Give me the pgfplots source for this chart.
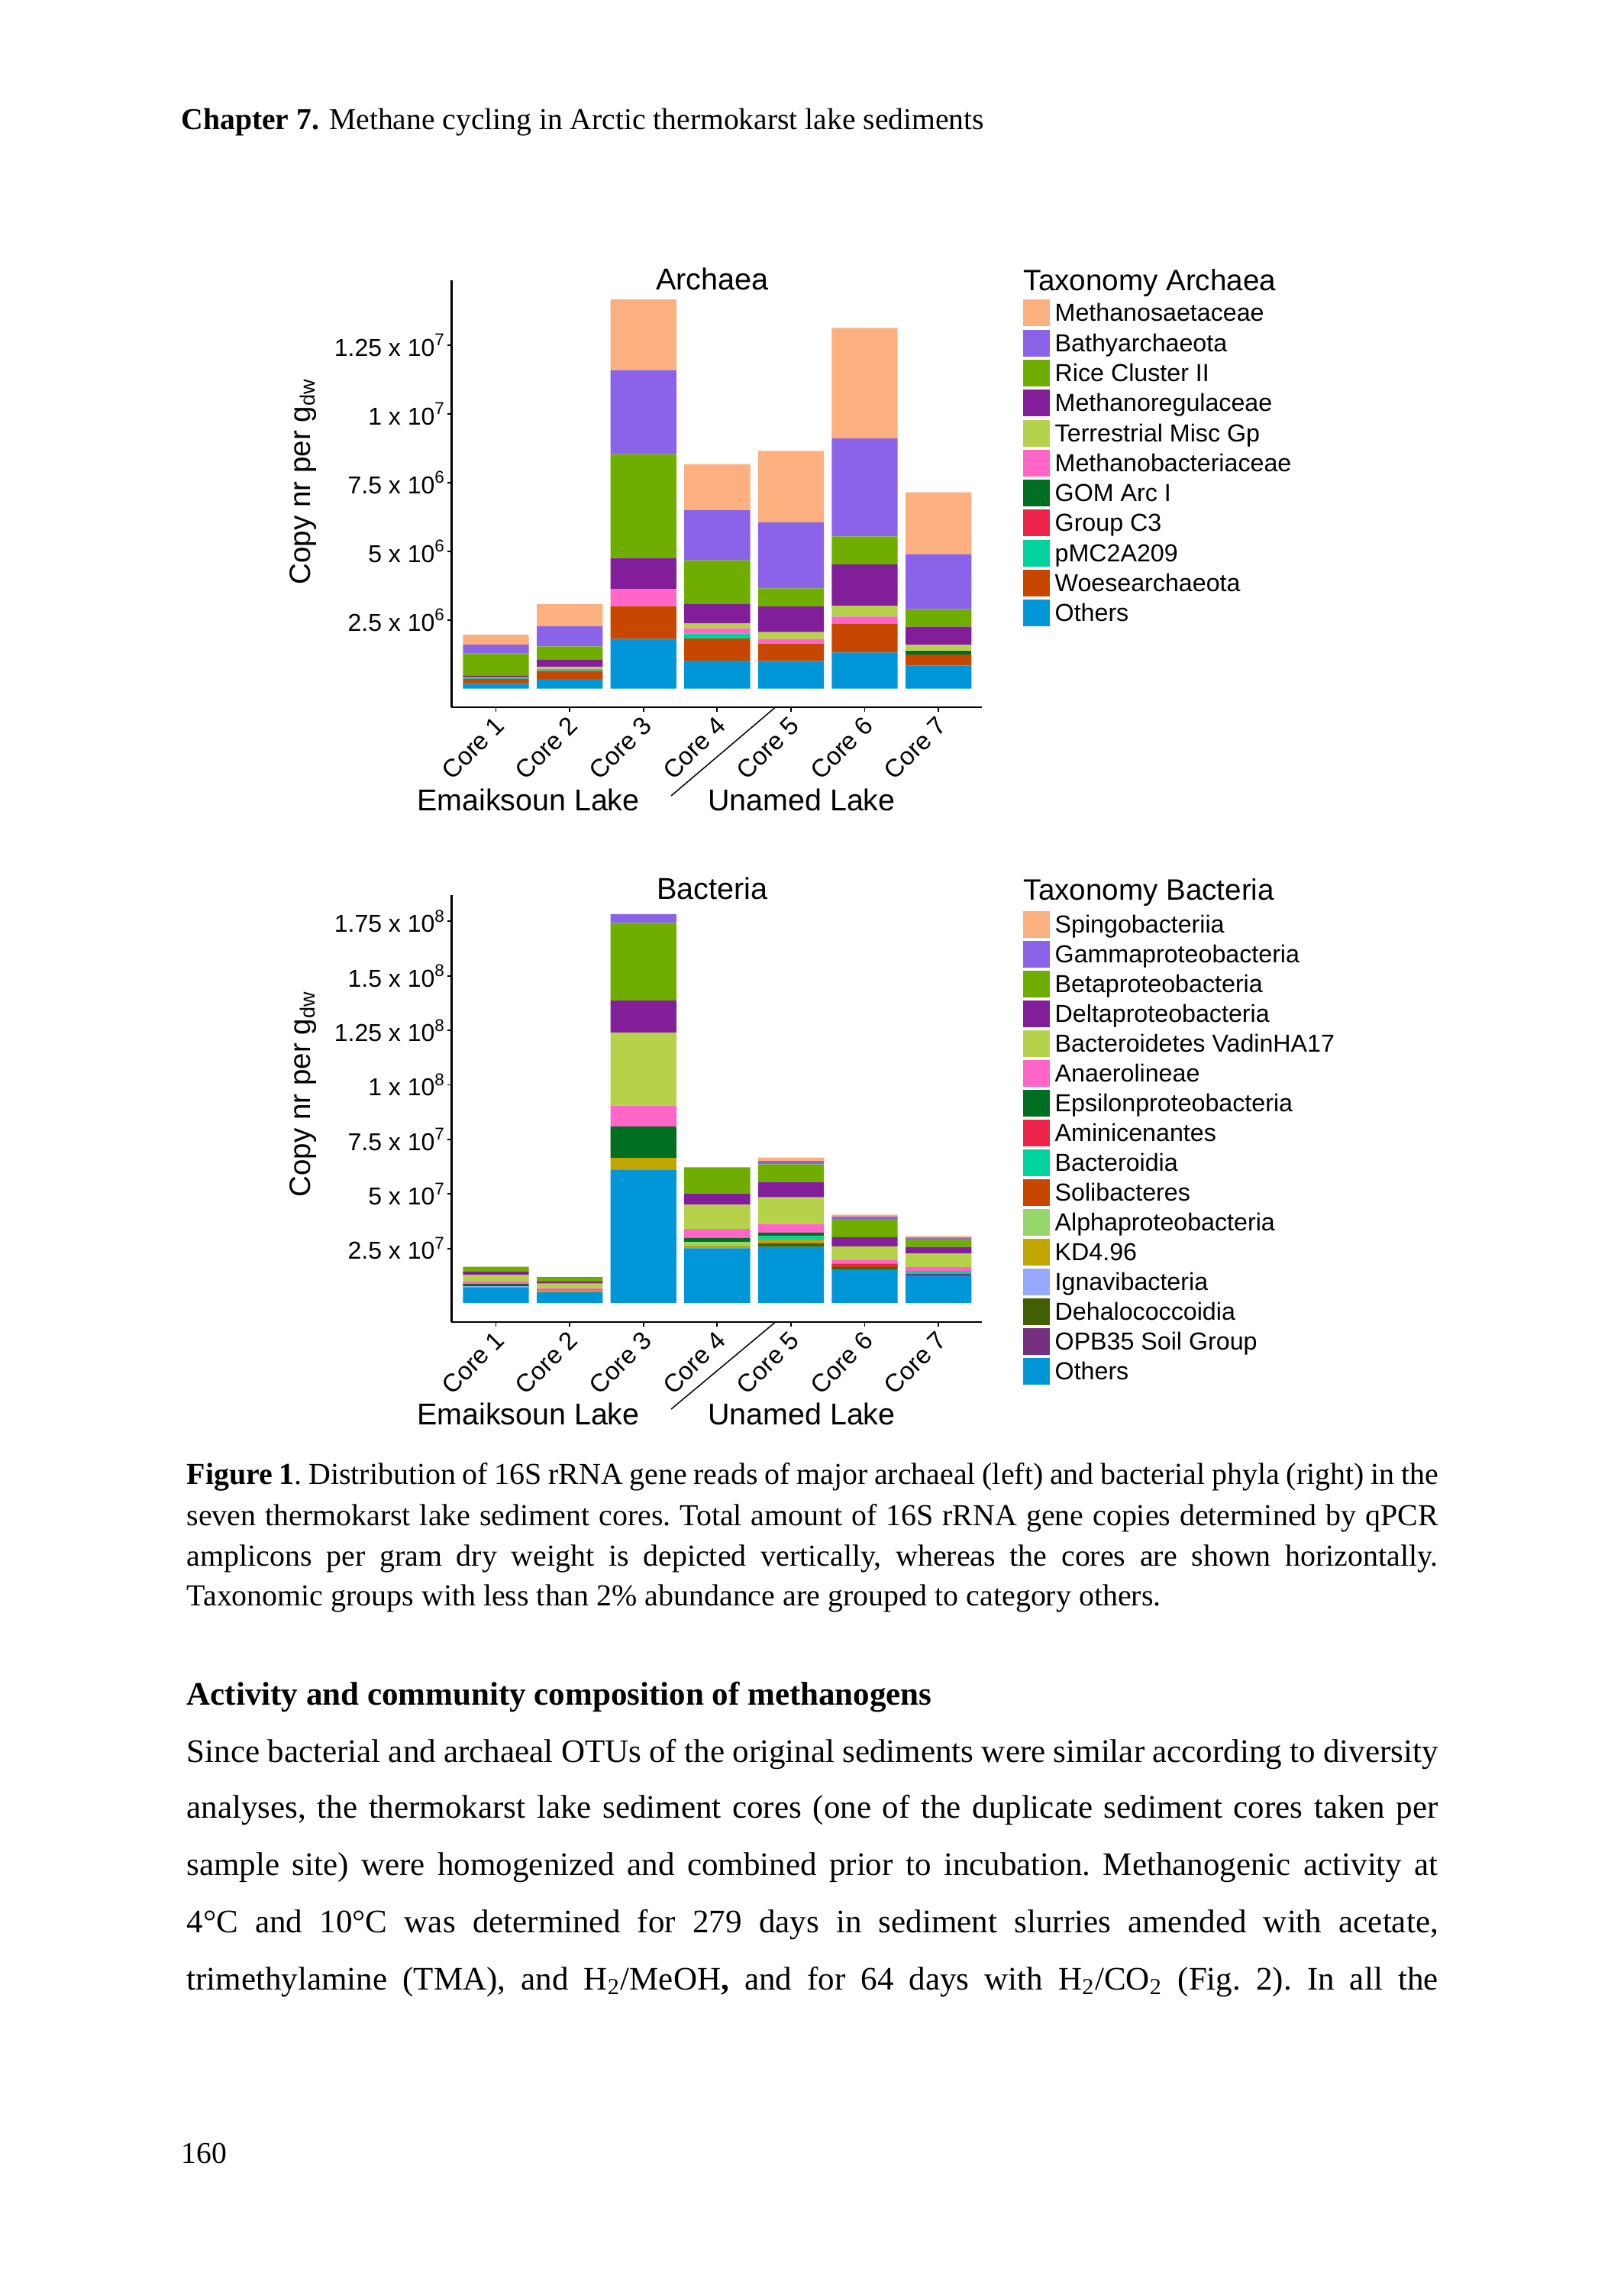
\documentclass[border=0pt]{standalone}
\usepackage{pgfplots}
\pgfplotsset{compat=1.18}
\usepackage{pgfplotstable}
\usepackage{fontspec}
\setmainfont{Liberation Serif}
\newfontfamily\arial{Liberation Sans}

\definecolor{cSaet}{HTML}{FCB080}
\definecolor{cBathy}{HTML}{8B63E8}
\definecolor{cRice}{HTML}{6FAE00}
\definecolor{cMreg}{HTML}{821E99}
\definecolor{cTerr}{HTML}{B6D24A}
\definecolor{cMbact}{HTML}{FF66C8}
\definecolor{cGom}{HTML}{006F21}
\definecolor{cGc}{HTML}{EC2449}
\definecolor{cPmc}{HTML}{00D39E}
\definecolor{cWoese}{HTML}{C84700}
\definecolor{cOthers}{HTML}{0096D8}
\definecolor{cAlpha}{HTML}{97D66C}
\definecolor{cKd}{HTML}{C1A500}
\definecolor{cIgnav}{HTML}{97A8FF}
\definecolor{cDehalo}{HTML}{436000}
\definecolor{cOpb}{HTML}{763080}

% Archaea, copies per g dw in units of 10^6
\pgfplotstableread{
x others woese pmc gcthree gom mbact terr mreg rice bathy saet
1 0.175 0.185 0.04 0.03 0 0 0 0.04 0.812 0.318 0.362
2 0.351 0.296 0.04 0 0 0.037 0.076 0.253 0.482 0.735 0.80
3 1.81 1.19 0 0 0 0.63 0 1.12 3.78 3.06 2.57
4 1.02 0.81 0.17 0 0 0.20 0.18 0.70 1.59 1.82 1.67
5 1.01 0.635 0 0 0 0.165 0.25 0.93 0.66 2.40 2.60
6 1.316 1.044 0 0 0 0.26 0.395 1.505 1.02 3.56 4.025
7 0.833 0.407 0 0 0.15 0 0.20 0.66 0.645 1.995 2.25
}\archaea

% Bacteria, copies per g dw in units of 10^7
\pgfplotstableread{
x others opb dehalo ignav kd alpha solib bactd amin eps anaer vadin delta beta gamma sping
1 0.71 0 0 0.06 0 0 0 0 0 0.106 0.129 0.28 0.151 0.221 0 0
2 0.49 0 0 0 0.08 0 0 0 0.05 0 0.056 0.21 0.104 0.166 0.034 0
3 6.12 0 0 0 0.535 0 0 0 0 1.445 0.95 3.35 1.47 3.56 0.40 0
4 2.51 0 0 0 0.14 0.15 0 0 0 0.19 0.40 1.12 0.51 1.20 0 0
5 2.57 0 0.17 0 0.16 0 0 0.17 0 0.16 0.39 1.225 0.70 0.815 0.155 0.15
6 1.54 0 0.105 0 0 0 0.06 0 0.105 0 0.16 0.63 0.42 0.83 0.11 0.09
7 1.27 0.07 0 0 0 0 0 0.13 0 0 0.185 0.61 0.305 0.37 0.06 0.07
}\bacteria

\pgfplotsset{mychart/.style={
  scale only axis, width=69.5mm, height=55.95mm,
  xmin=0.398, xmax=7.592,
  axis x line*=bottom, axis y line*=left,
  axis line style={black, line width=0.22mm, -},
  ybar stacked, bar width=0.893,
  xtick={1,...,7},
  xticklabels={Core 1,Core 2,Core 3,Core 4,Core 5,Core 6,Core 7},
  tick align=outside, major tick length=0.55mm,
  tick style={black, line width=0.18mm},
  x tick label style={font=\arial\fontsize{3.3mm}{3.8mm}\selectfont, rotate=45, anchor=north east, inner sep=0.3mm, xshift=-0.2mm, yshift=0.3mm},
  y tick label style={font=\arial\fontsize{3.2mm}{3.8mm}\selectfont, inner sep=0.15mm},
  every axis plot/.append style={draw=none},
}}

\newcommand{\captxt}{\fontsize{3.99mm}{4.8mm}\selectfont\frenchspacing}
\newcommand{\bodytxt}{\fontsize{4.30mm}{5.2mm}\selectfont\frenchspacing\spaceskip=.25em plus .4em minus .1em\relax}
\newcommand{\capline}[2]{\node[anchor=base west, inner sep=0pt, font=\captxt] at (24.4mm,-#1mm) {\makebox[163.9mm][s]{#2}};}
\newcommand{\bodyline}[2]{\node[anchor=base west, inner sep=0pt, font=\bodytxt] at (24.4mm,-#1mm) {\makebox[163.9mm][s]{#2}};}

\begin{document}
\begin{tikzpicture}
\fill[white] (0,0) rectangle (212.6mm,-300.1mm);
\path[use as bounding box] (0,0) rectangle (212.6mm,-300.1mm);

% header
\node[anchor=base west, inner sep=0pt, font=\fontsize{3.96mm}{4.8mm}\selectfont] at (23.7mm,-16.9mm) {\textbf{Chapter 7.} Methane cycling in Arctic thermokarst lake sediments};

% ---------------- Archaea ----------------
\begin{axis}[mychart, at={(59.14mm,-92.63mm)}, anchor=south west,
  ymin=-0.683, ymax=14.86,
  ytick={2.5,5,7.5,10,12.5},
  yticklabels={{2.5 x 10\textsuperscript{6}},{5 x 10\textsuperscript{6}},{7.5 x 10\textsuperscript{6}},{1 x 10\textsuperscript{7}},{1.25 x 10\textsuperscript{7}}}]
\addplot[fill=cOthers] table[x=x,y=others]{\archaea};
\addplot[fill=cWoese] table[x=x,y=woese]{\archaea};
\addplot[fill=cPmc] table[x=x,y=pmc]{\archaea};
\addplot[fill=cGc] table[x=x,y=gcthree]{\archaea};
\addplot[fill=cGom] table[x=x,y=gom]{\archaea};
\addplot[fill=cMbact] table[x=x,y=mbact]{\archaea};
\addplot[fill=cTerr] table[x=x,y=terr]{\archaea};
\addplot[fill=cMreg] table[x=x,y=mreg]{\archaea};
\addplot[fill=cRice] table[x=x,y=rice]{\archaea};
\addplot[fill=cBathy] table[x=x,y=bathy]{\archaea};
\addplot[fill=cSaet] table[x=x,y=saet]{\archaea};
\end{axis}

\node[anchor=base, inner sep=0pt, font=\arial\fontsize{3.96mm}{4.8mm}\selectfont] at (93.3mm,-37.9mm) {Archaea};
\node[rotate=90, inner sep=0pt, font=\arial\fontsize{3.86mm}{4.6mm}\selectfont] at (39.67mm,-63.05mm) {Copy nr per g\textsubscript{dw}};
\node[anchor=base, inner sep=0pt, font=\arial\fontsize{3.94mm}{4.7mm}\selectfont] at (69.2mm,-106.17mm) {Emaiksoun Lake};
\node[anchor=base, inner sep=0pt, font=\arial\fontsize{3.94mm}{4.7mm}\selectfont] at (105.0mm,-106.17mm) {Unamed Lake};
\draw[line width=0.15mm] (101.5mm,-92.65mm) -- (87.9mm,-104.2mm);

% legend archaea
\node[anchor=base west, inner sep=0pt, font=\arial\fontsize{3.86mm}{4.6mm}\selectfont] at (134.0mm,-38.0mm) {Taxonomy Archaea};
\foreach \c/\t [count=\i from 0] in {cSaet/Methanosaetaceae, cBathy/Bathyarchaeota, cRice/Rice Cluster II, cMreg/Methanoregulaceae, cTerr/Terrestrial Misc Gp, cMbact/Methanobacteriaceae, cGom/GOM Arc I, cGc/Group C3, cPmc/pMC2A209, cWoese/Woesearchaeota, cOthers/Others}{
  \pgfmathsetmacro\yy{39.23+3.93*\i}
  \fill[\c] (134.0mm,{-\yy*1mm}) rectangle ++(3.5mm,-3.5mm);
  \node[anchor=base west, inner sep=0pt, font=\arial\fontsize{3.22mm}{3.8mm}\selectfont] at (138.1mm,{-(\yy+2.85)*1mm}) {\t};
}

% ---------------- Bacteria ----------------
\begin{axis}[mychart, at={(59.14mm,-173.1mm)}, anchor=south west,
  ymin=-0.876, ymax=18.72,
  ytick={2.5,5,7.5,10,12.5,15,17.5},
  yticklabels={{2.5 x 10\textsuperscript{7}},{5 x 10\textsuperscript{7}},{7.5 x 10\textsuperscript{7}},{1 x 10\textsuperscript{8}},{1.25 x 10\textsuperscript{8}},{1.5 x 10\textsuperscript{8}},{1.75 x 10\textsuperscript{8}}}]
\addplot[fill=cOthers] table[x=x,y=others]{\bacteria};
\addplot[fill=cOpb] table[x=x,y=opb]{\bacteria};
\addplot[fill=cDehalo] table[x=x,y=dehalo]{\bacteria};
\addplot[fill=cIgnav] table[x=x,y=ignav]{\bacteria};
\addplot[fill=cKd] table[x=x,y=kd]{\bacteria};
\addplot[fill=cAlpha] table[x=x,y=alpha]{\bacteria};
\addplot[fill=cWoese] table[x=x,y=solib]{\bacteria};
\addplot[fill=cPmc] table[x=x,y=bactd]{\bacteria};
\addplot[fill=cGc] table[x=x,y=amin]{\bacteria};
\addplot[fill=cGom] table[x=x,y=eps]{\bacteria};
\addplot[fill=cMbact] table[x=x,y=anaer]{\bacteria};
\addplot[fill=cTerr] table[x=x,y=vadin]{\bacteria};
\addplot[fill=cMreg] table[x=x,y=delta]{\bacteria};
\addplot[fill=cRice] table[x=x,y=beta]{\bacteria};
\addplot[fill=cBathy] table[x=x,y=gamma]{\bacteria};
\addplot[fill=cSaet] table[x=x,y=sping]{\bacteria};
\end{axis}

\node[anchor=base, inner sep=0pt, font=\arial\fontsize{3.96mm}{4.8mm}\selectfont] at (93.3mm,-117.7mm) {Bacteria};
\node[rotate=90, inner sep=0pt, font=\arial\fontsize{3.86mm}{4.6mm}\selectfont] at (39.67mm,-143.25mm) {Copy nr per g\textsubscript{dw}};
\node[anchor=base, inner sep=0pt, font=\arial\fontsize{3.94mm}{4.7mm}\selectfont] at (69.2mm,-186.57mm) {Emaiksoun Lake};
\node[anchor=base, inner sep=0pt, font=\arial\fontsize{3.94mm}{4.7mm}\selectfont] at (105.0mm,-186.57mm) {Unamed Lake};
\draw[line width=0.15mm] (101.5mm,-173.15mm) -- (87.9mm,-184.5mm);

% legend bacteria
\node[anchor=base west, inner sep=0pt, font=\arial\fontsize{3.86mm}{4.6mm}\selectfont] at (134.0mm,-117.8mm) {Taxonomy Bacteria};
\foreach \c/\t [count=\i from 0] in {cSaet/Spingobacteriia, cBathy/Gammaproteobacteria, cRice/Betaproteobacteria, cMreg/Deltaproteobacteria, cTerr/Bacteroidetes VadinHA17, cMbact/Anaerolineae, cGom/Epsilonproteobacteria, cGc/Aminicenantes, cPmc/Bacteroidia, cWoese/Solibacteres, cAlpha/Alphaproteobacteria, cKd/KD4.96, cIgnav/Ignavibacteria, cDehalo/Dehalococcoidia, cOpb/OPB35 Soil Group, cOthers/Others}{
  \pgfmathsetmacro\yy{119.34+3.90*\i}
  \fill[\c] (134.0mm,{-\yy*1mm}) rectangle ++(3.5mm,-3.45mm);
  \node[anchor=base west, inner sep=0pt, font=\arial\fontsize{3.22mm}{3.8mm}\selectfont] at (138.1mm,{-(\yy+2.85)*1mm}) {\t};
}

% caption
\capline{194.3}{\textbf{Figure 1}. Distribution of 16S rRNA gene reads of major archaeal (left) and bacterial phyla (right) in the}
\capline{199.7}{seven thermokarst lake sediment cores. Total amount of 16S rRNA gene copies determined by qPCR}
\capline{205.0}{amplicons per gram dry weight is depicted vertically, whereas the cores are shown horizontally.}
\node[anchor=base west, inner sep=0pt, font=\captxt] at (24.4mm,-210.2mm) {Taxonomic groups with less than 2\% abundance are grouped to category others.};

% section heading and paragraph
\node[anchor=base west, inner sep=0pt, font=\bodytxt] at (24.4mm,-223.2mm) {\textbf{Activity and community composition of methanogens}};
\bodyline{230.7}{Since bacterial and archaeal OTUs of the original sediments were similar according to diversity}
\bodyline{238.0}{analyses, the thermokarst lake sediment cores (one of the duplicate sediment cores taken per}
\bodyline{245.5}{sample site) were homogenized and combined prior to incubation. Methanogenic activity at}
\bodyline{253.0}{4°C and 10°C was determined for 279 days in sediment slurries amended with acetate,}
\bodyline{260.5}{trimethylamine (TMA), and H\textsubscript{2}/MeOH\textbf{,} and for 64 days with H\textsubscript{2}/CO\textsubscript{2} (Fig. 2). In all the}

% page number
\node[anchor=base west, inner sep=0pt, font=\fontsize{3.96mm}{4.8mm}\selectfont] at (23.7mm,-283.2mm) {160};
\end{tikzpicture}
\end{document}
